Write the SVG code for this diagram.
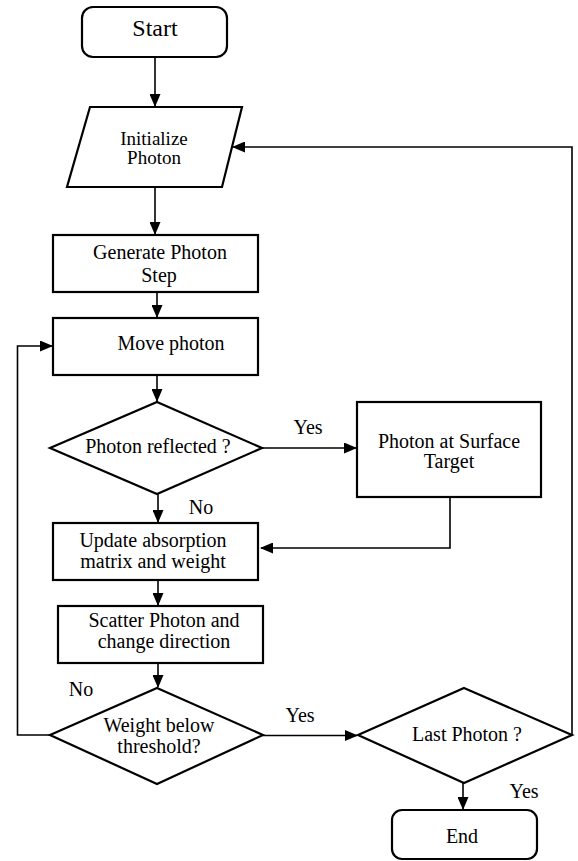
<svg xmlns="http://www.w3.org/2000/svg" width="578" height="861" viewBox="0 0 578 861">
<style>
.s{fill:#fff;stroke:#000;stroke-width:2.2}
.c{fill:none;stroke:#000;stroke-width:1.6}
text{font-family:"Liberation Serif","DejaVu Serif","Times New Roman",serif;font-size:20px;fill:#000;text-anchor:middle}
</style>
<defs>
<marker id="ar" markerUnits="userSpaceOnUse" markerWidth="13" markerHeight="11" refX="12" refY="5.5" orient="auto">
<path d="M0,0 L13,5.5 L0,11 Z" fill="#000"/>
</marker>
</defs>
<rect width="578" height="861" fill="#fff"/>
<g id="connectors">
<line class="c" x1="155" y1="57" x2="155" y2="106" marker-end="url(#ar)"/>
<line class="c" x1="155" y1="187" x2="155" y2="234" marker-end="url(#ar)"/>
<line class="c" x1="157" y1="292" x2="157" y2="317" marker-end="url(#ar)"/>
<line class="c" x1="157" y1="375" x2="157" y2="401" marker-end="url(#ar)"/>
<line class="c" x1="262" y1="448" x2="356" y2="448" marker-end="url(#ar)"/>
<polyline class="c" points="450,497 450,548 261,548" marker-end="url(#ar)"/>
<line class="c" x1="158" y1="494" x2="158" y2="522" marker-end="url(#ar)"/>
<line class="c" x1="158" y1="580" x2="158" y2="605" marker-end="url(#ar)"/>
<line class="c" x1="158" y1="663" x2="158" y2="687" marker-end="url(#ar)"/>
<line class="c" x1="263" y1="735.5" x2="357" y2="735.5" marker-end="url(#ar)"/>
<polyline class="c" points="50,735 17.5,735 17.5,346 52,346" marker-end="url(#ar)"/>
<line class="c" x1="463" y1="783" x2="463" y2="809" marker-end="url(#ar)"/>
<polyline class="c" points="572,735 572,147 233,147" marker-end="url(#ar)"/>
<text x="308" y="434">Yes</text>
<text x="201" y="514">No</text>
<text x="81" y="696">No</text>
<text x="300" y="722">Yes</text>
<text x="524" y="798">Yes</text>
</g>
<g id="start">
<rect class="s" x="82" y="7" width="145" height="50" rx="11"/>
<text x="155" y="36" style="font-size:24px">Start</text>
</g>
<g id="init">
<polygon class="s" points="90,107 242,107 222,187 67,187"/>
<text x="154" y="145" style="font-size:19px">Initialize</text>
<text x="154" y="164" style="font-size:19px">Photon</text>
</g>
<g id="generate">
<rect class="s" x="53" y="235" width="205" height="57"/>
<text x="160" y="259">Generate Photon</text>
<text x="159" y="282">Step</text>
</g>
<g id="move">
<rect class="s" x="53" y="318" width="205" height="57"/>
<text x="171" y="350">Move photon</text>
</g>
<g id="reflected">
<polygon class="s" points="157,402 262,448 157,494 50,448"/>
<text x="158" y="453">Photon reflected ?</text>
</g>
<g id="surface">
<rect class="s" x="357" y="402" width="184" height="95"/>
<text x="449" y="448">Photon at Surface</text>
<text x="449" y="468">Target</text>
</g>
<g id="update">
<rect class="s" x="53" y="523" width="205" height="57"/>
<text x="153" y="547">Update absorption</text>
<text x="153" y="568">matrix and weight</text>
</g>
<g id="scatter">
<rect class="s" x="58" y="606" width="205" height="57"/>
<text x="164" y="627">Scatter Photon and</text>
<text x="164" y="648">change direction</text>
</g>
<g id="weight">
<polygon class="s" points="157,688 263,735 157,784 50,735"/>
<text x="159" y="732">Weight below</text>
<text x="159" y="753">threshold?</text>
</g>
<g id="last">
<polygon class="s" points="464,688 572,735 464,783 358,735"/>
<text x="467" y="741">Last Photon ?</text>
</g>
<g id="end">
<rect class="s" x="392" y="810" width="145" height="49" rx="10"/>
<text x="462" y="843">End</text>
</g>
</svg>
